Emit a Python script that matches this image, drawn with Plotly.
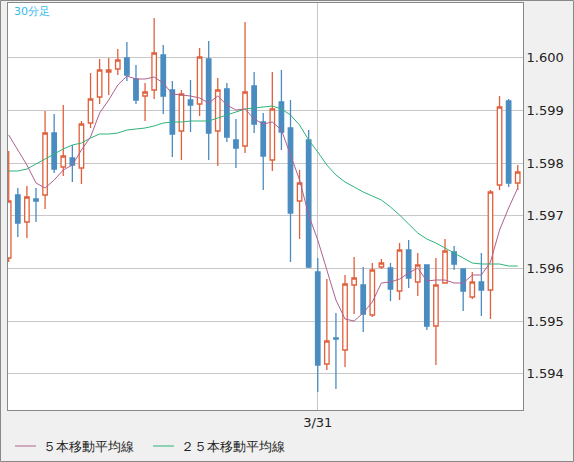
import plotly.graph_objects as go

idx = list(range(57))
open_ = [1.596198,1.597395,1.596882,1.597319,1.597395,1.598573,1.597927,1.598098,1.597908,1.598763,
         1.599257,1.599732,1.599789,1.599998,1.599599,1.599276,1.599390,1.600055,1.599390,1.598611,
         1.599200,1.599124,1.599979,1.598611,1.599409,1.598440,1.598326,1.599466,1.598782,1.598060,
         1.599162,1.598668,1.597281,1.598440,1.595932,1.594184,1.594678,1.594450,1.595685,1.595685,
         1.595115,1.596027,1.596008,1.595571,1.596350,1.595742,1.596065,1.594906,1.595723,1.596312,
         1.595989,1.595457,1.595742,1.595590,1.597585,1.599181,1.597623]
high = [1.598231,1.597528,1.597566,1.597528,1.598991,1.598934,1.599105,1.598345,1.598801,1.599713,
        1.599979,1.599998,1.600169,1.600302,1.599865,1.599523,1.600758,1.600245,1.599561,1.599390,
        1.599580,1.600188,1.600321,1.599618,1.599523,1.598839,1.600682,1.599732,1.598953,1.599732,
        1.599770,1.599200,1.597870,1.598630,1.596198,1.595799,1.595153,1.595875,1.596217,1.596027,
        1.596103,1.596179,1.596103,1.596483,1.596540,1.596293,1.596065,1.596198,1.596559,1.596426,
        1.595989,1.595932,1.596293,1.597490,1.599276,1.599219,1.597965]
low = [1.596122,1.596597,1.596578,1.596882,1.597129,1.597813,1.597756,1.597642,1.597604,1.598668,
       1.599124,1.599295,1.599675,1.599561,1.599124,1.598801,1.599219,1.598934,1.598117,1.598060,
       1.598592,1.598896,1.598060,1.597946,1.598402,1.597908,1.598193,1.598573,1.597490,1.597851,
       1.598250,1.596122,1.596559,1.596008,1.593652,1.594070,1.593709,1.594127,1.595134,1.594792,
       1.595077,1.595989,1.595381,1.595400,1.595628,1.595476,1.594830,1.594165,1.595723,1.595970,
       1.595191,1.595419,1.595096,1.595039,1.597490,1.597547,1.597490]
close = [1.597281,1.596863,1.597357,1.597281,1.598573,1.597889,1.598136,1.597965,1.598744,1.599219,
         1.599770,1.599770,1.599960,1.599675,1.599200,1.599352,1.600093,1.599276,1.598554,1.599314,
         1.599105,1.600017,1.598573,1.599390,1.598497,1.598288,1.599352,1.598744,1.598136,1.599029,
         1.598592,1.597053,1.597623,1.596027,1.594165,1.594621,1.594659,1.595704,1.595818,1.595134,
         1.595970,1.596103,1.595609,1.596350,1.595818,1.596065,1.594906,1.595685,1.596331,1.596084,
         1.595571,1.595742,1.595590,1.597452,1.599067,1.597623,1.597832]
ma5 = [1.598535,1.598250,1.597965,1.597623,1.597528,1.597680,1.597870,1.597965,1.598250,1.598497,
       1.598953,1.599200,1.599485,1.599656,1.599599,1.599599,1.599637,1.599523,1.599314,1.599295,
       1.599276,1.599238,1.599143,1.599276,1.599105,1.599010,1.599029,1.598839,1.598744,1.598782,
       1.598630,1.598155,1.597680,1.597015,1.596540,1.595970,1.595400,1.595039,1.595001,1.595153,
       1.595362,1.595723,1.595742,1.595799,1.595913,1.596008,1.595761,1.595780,1.595780,1.595723,
       1.595723,1.595875,1.595875,1.596122,1.596730,1.597148,1.597528]
ma25 = [1.597851,1.597851,1.597889,1.597984,1.598079,1.598174,1.598269,1.598345,1.598383,1.598478,
        1.598554,1.598554,1.598573,1.598630,1.598649,1.598668,1.598706,1.598763,1.598782,1.598782,
        1.598801,1.598801,1.598801,1.598858,1.598915,1.598972,1.599029,1.599048,1.599067,1.599086,
        1.599029,1.598915,1.598725,1.598440,1.598212,1.597965,1.597775,1.597642,1.597547,1.597452,
        1.597376,1.597300,1.597167,1.597015,1.596844,1.596673,1.596559,1.596483,1.596388,1.596293,
        1.596198,1.596103,1.596084,1.596084,1.596084,1.596046,1.596046]
ytick_vals = [1.594, 1.595, 1.596, 1.597, 1.598, 1.599, 1.600]
xtick_vals = [34]
xtick_text = ["3/31"]

UP = "#e0603c"
DOWN = "#4a8cc0"
MA5C = "#b0608e"
MA25C = "#2db37a"

fig = go.Figure()
fig.add_trace(go.Candlestick(x=idx, open=open_, high=high, low=low, close=close,
    increasing=dict(line=dict(color=UP, width=1.3), fillcolor="white"),
    decreasing=dict(line=dict(color=DOWN, width=1.3), fillcolor=DOWN),
    whiskerwidth=0, showlegend=False, hoverinfo="skip"))
fig.add_trace(go.Scatter(x=idx, y=ma25, mode="lines", line=dict(color=MA25C, width=1), showlegend=False))
fig.add_trace(go.Scatter(x=idx, y=ma5, mode="lines", line=dict(color=MA5C, width=1), showlegend=False))

W, H = 574, 462
L, R, T, B = 8, 51, 3, 52
pw, ph = W - L - R, H - T - B
def px(x): return (x - L) / pw
def py(y): return 1 - (y - T) / ph

fig.update_layout(
    width=W, height=H, margin=dict(l=L, r=R, t=T, b=B),
    paper_bgcolor="#f0f0f0", plot_bgcolor="white",
    font=dict(family="DejaVu Sans", size=13, color="#222"),
    xaxis=dict(range=[-0.08, 56.58], rangeslider=dict(visible=False), tickvals=xtick_vals,
               ticktext=xtick_text, showgrid=True, gridcolor="#c8c8c8", zeroline=False,
               showline=True, linecolor="#888", mirror=True, ticks="", ticklen=0),
    yaxis=dict(range=[1.59331, 1.601043], side="right", tickvals=ytick_vals, tickformat=".3f",
               showgrid=True, gridcolor="#c8c8c8", zeroline=False, showline=True,
               linecolor="#888", mirror=True, ticks="", ticklen=6, tickfont=dict(size=13)),
    shapes=[
        dict(type="rect", xref="paper", yref="paper", x0=px(0.5), x1=px(W - 0.5), y0=py(H - 0.5), y1=py(0.5),
             line=dict(color="#888", width=1)),
        dict(type="line", xref="paper", yref="paper", x0=px(15), x1=px(36), y0=py(446), y1=py(446),
             line=dict(color=MA5C, width=1)),
        dict(type="line", xref="paper", yref="paper", x0=px(153), x1=px(174), y0=py(446), y1=py(446),
             line=dict(color=MA25C, width=1)),
    ],
    annotations=[
        dict(text="30分足", xref="paper", yref="paper", x=px(12), y=py(11), xanchor="left", yanchor="middle",
             showarrow=False, font=dict(color="#33bbee", size=11)),
        dict(text="５本移動平均線", xref="paper", yref="paper", x=px(41), y=py(446), xanchor="left",
             yanchor="middle", showarrow=False, font=dict(size=13)),
        dict(text="２５本移動平均線", xref="paper", yref="paper", x=px(179), y=py(446), xanchor="left",
             yanchor="middle", showarrow=False, font=dict(size=13)),
    ],
)
fig.write_html("out.html", config={"displayModeBar": False},
               post_script="document.body.style.margin='0px';")
